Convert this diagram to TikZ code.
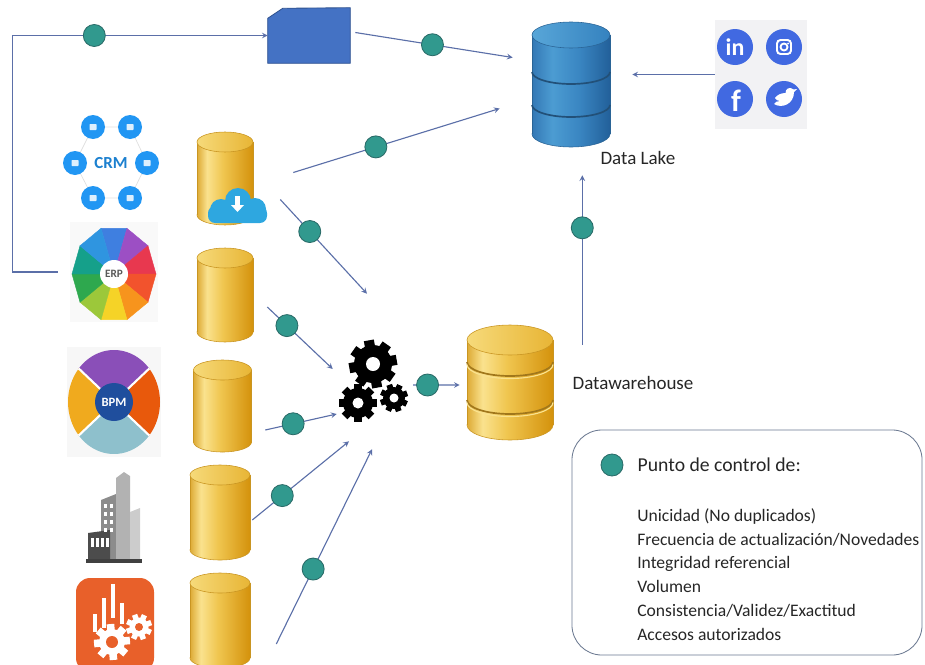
\documentclass[tikz,border=0pt]{standalone}
\usepackage{fontspec}
\setmainfont{Carlito}
\usetikzlibrary{shapes.misc, positioning, shapes.geometric, arrows}

\definecolor{linec}{HTML}{5B6FA8}
\definecolor{dotc}{HTML}{31998E}
\definecolor{dotedge}{HTML}{2A6B68}
\definecolor{docblue}{HTML}{4472C4}
\definecolor{docedge}{HTML}{2F528F}
\definecolor{gA}{HTML}{DDAA35}
\definecolor{gB}{HTML}{FAE28E}
\definecolor{gC}{HTML}{F0C650}
\definecolor{gD}{HTML}{D4920C}
\definecolor{gtopA}{HTML}{F6DA7A}
\definecolor{gtopB}{HTML}{E8B535}
\definecolor{goldedge}{HTML}{C99522}
\definecolor{bA}{HTML}{3478B5}
\definecolor{bB}{HTML}{4C9CD2}
\definecolor{bC}{HTML}{3A86C2}
\definecolor{bD}{HTML}{22609A}
\definecolor{btopA}{HTML}{58A6D8}
\definecolor{btopB}{HTML}{3582BF}
\definecolor{blueedge}{HTML}{2A6496}
\definecolor{socblue}{HTML}{4169E1}
\definecolor{socbg}{HTML}{F2F2F4}
\definecolor{crmblue}{HTML}{2196F3}
\definecolor{cloudc}{HTML}{2EA7E0}
\definecolor{legc}{HTML}{6A7890}
\definecolor{orng}{HTML}{E8602A}
\definecolor{bpmpurple}{HTML}{8A4FB8}
\definecolor{bpmorange}{HTML}{E8590C}
\definecolor{bpmblue}{HTML}{8EC0CC}
\definecolor{bpmyellow}{HTML}{F0AA1E}
\definecolor{bpmcore}{HTML}{1F4E9D}
\definecolor{erp1}{HTML}{3F7FE0}
\definecolor{erp2}{HTML}{9C4FC4}
\definecolor{erp3}{HTML}{E8384F}
\definecolor{erp4}{HTML}{F2532D}
\definecolor{erp5}{HTML}{F7941D}
\definecolor{erp6}{HTML}{F5D327}
\definecolor{erp7}{HTML}{9CC83A}
\definecolor{erp8}{HTML}{2EA84E}
\definecolor{erp9}{HTML}{15A08A}
\definecolor{erp10}{HTML}{2F95E0}

\pgfdeclarehorizontalshading{goldshade}{100bp}{color(0bp)=(gA); color(25bp)=(gA); color(34bp)=(gB); color(48bp)=(gC); color(75bp)=(gD); color(100bp)=(gD)}
\pgfdeclarehorizontalshading{blueshade}{100bp}{color(0bp)=(bA); color(25bp)=(bA); color(38bp)=(bB); color(55bp)=(bC); color(75bp)=(bD); color(100bp)=(bD)}

\tikzstyle{arrow} = [->, >=stealth, line width=0.8pt, draw=linec]
\tikzstyle{dot} = [circle, fill=dotc, draw=dotedge, line width=0.6pt,
    minimum size=0.55cm, inner sep=0]
\tikzstyle{lbl} = [inner sep=0, text=black!85, font=\fontsize{13.5}{16}\selectfont]
\tikzstyle{icon} = [inner sep=0, rectangle]
\tikzstyle{goldbody} = [shade, shading=goldshade]
\tikzstyle{goldtop} = [left color=gtopA, right color=gtopB]
\tikzstyle{bluebody} = [shade, shading=blueshade]
\tikzstyle{bluetop} = [left color=btopA, right color=btopB]

% database cylinder: name, x, y, width, height, end radius, colour family
\newcommand{\dbcyl}[7]{%
  \node[icon, minimum width={#4*0.025cm}, minimum height={#5*0.025cm}] (#1) at (#2,#3) {};
  \pgfmathsetmacro\cyltop{#3+#5/2-#6}
  \pgfmathsetmacro\cylbot{#3-#5/2+#6}
  \path[#7body, draw=#7edge] (#2,\cylbot) ellipse [x radius=#4/2, y radius=#6];
  \path[#7body] (#2-#4/2,\cylbot) rectangle (#2+#4/2,\cyltop);
  \draw[#7edge] (#2-#4/2,\cylbot) -- (#2-#4/2,\cyltop) (#2+#4/2,\cylbot) -- (#2+#4/2,\cyltop);
  \path[#7top, draw=#7edge] (#2,\cyltop) ellipse [x radius=#4/2, y radius=#6];
}

% cog wheel: x, y, outer, body, hole, colour, hole colour, turn
\newcommand{\cog}[8]{%
  \foreach \t in {0,45,...,315}
    \draw[#6, line width={#3*0.3pt}] (#1,#2) -- +(\t+#8:#3);
  \fill[#6] (#1,#2) circle[radius=#4];
  \fill[#7] (#1,#2) circle[radius=#5];
}

\begin{document}
\begin{tikzpicture}[x=0.025cm, y=0.025cm]
    \useasboundingbox (0,0) rectangle (925,-664);

    % sources
    \node[icon, minimum width=2.4cm, minimum height=2.4cm] (crm) at (111,-163) {};
    \draw[gray!25, line width=0.5pt] (93,-127) -- (130,-127) -- (147,-163) -- (130,-198) -- (93,-198) -- (75,-163) -- cycle;
    \foreach \p in {(93,-127),(130,-127),(147,-163),(130,-198),(93,-198),(75,-163)} {
        \fill[crmblue] \p circle[radius=12];
        \fill[white, opacity=0.85, rounded corners=0.5pt] \p ++(-3.5,-3) rectangle ++(7,6);
    }
    \node[inner sep=0, text=crmblue!85!black, font=\bfseries\fontsize{12}{12}\selectfont] (crmtxt) at (111,-163) {CRM};

    \node[icon, fill=gray!5, minimum width=2.2cm, minimum height=2.5cm] (erp) at (114,-272) {};
    \foreach \c [count=\i] in {erp1,erp2,erp3,erp4,erp5,erp6,erp7,erp8,erp9,erp10}
        \filldraw[\c, line width=0.3pt] (114,-274) -- +({108-36*(\i-1)}:42 and 48) -- +({108-36*\i}:42 and 48) -- cycle;
    \fill[white] (114,-274) circle[radius=14];
    \node[inner sep=0, text=black!65, font=\bfseries\fontsize{8}{8}\selectfont] (erptxt) at (114,-274) {ERP};

    \node[icon, fill=gray!6, minimum width=2.325cm, minimum height=2.75cm] (bpm) at (114,-402) {};
    \fill[bpmpurple] (114,-402) -- +(40:46 and 52) arc[start angle=40, end angle=140, x radius=46, y radius=52] -- cycle;
    \fill[bpmyellow] (114,-402) -- +(140:46 and 52) arc[start angle=140, end angle=220, x radius=46, y radius=52] -- cycle;
    \fill[bpmblue] (114,-402) -- +(220:46 and 52) arc[start angle=220, end angle=320, x radius=46, y radius=52] -- cycle;
    \fill[bpmorange] (114,-402) -- +(-40:46 and 52) arc[start angle=-40, end angle=40, x radius=46, y radius=52] -- cycle;
    \foreach \a in {40,140,220,320}
        \draw[white, line width=1.5pt] (114,-402) -- +(\a:46 and 52);
    \fill[bpmcore] (114,-402) circle[radius=19];
    \node[inner sep=0, text=white, font=\bfseries\fontsize{9}{9}\selectfont] (bpmtxt) at (114,-402) {BPM};

    \node[icon, minimum width=1.4cm, minimum height=2.3cm] (bldg) at (114,-517) {};
    \fill[black!45] (101,-562) -- (101,-500) -- (116,-494) -- (116,-562) -- cycle;
    \fill[black!30] (116,-562) -- (116,-478) -- (124,-472) -- (130,-476) -- (130,-562) -- cycle;
    \fill[black!20] (130,-562) -- (130,-512) -- (140,-508) -- (140,-562) -- cycle;
    \fill[black!70] (88,-562) -- (88,-533) -- (110,-530) -- (110,-562) -- cycle;
    \foreach \y in {-504,-512,-520,-528}
        \foreach \x in {104,110}
            \fill[white] (\x,\y) rectangle ++(3,-4);
    \foreach \x in {91,96,101,106}
        \fill[white] (\x,-538) rectangle ++(2.5,-9);
    \fill[black!75] (86,-559) rectangle (142,-563);

    \node[icon, minimum width=2cm, minimum height=2.2cm] (tools) at (115,-621) {};
    \fill[orng, rounded corners=0.35cm] (76,-578) rectangle (154,-672);
    \foreach \x/\ya/\yb in {95/-614/-632, 104/-598/-628, 113/-584/-618, 122/-603/-624}
        \fill[white] (\x-1.8,\ya) rectangle (\x+1.8,\yb);
    \cog{112}{-642}{18}{13}{6}{white}{orng}{5}
    \cog{139}{-627}{13}{9.5}{4}{white}{orng}{20}

    % staging databases
    \dbcyl{cyl1}{225}{-178.5}{56}{93}{10}{gold}
    \fill[cloudc] (221,-210) circle[radius=11] (238,-201) circle[radius=13] (255,-209) circle[radius=11];
    \fill[cloudc, rounded corners=5pt] (208,-206) rectangle (267,-223);
    \fill[white] (235,-196) rectangle (240,-206);
    \fill[white] (231,-205) -- (244,-205) -- (237.5,-212) -- cycle;
    \dbcyl{cyl2}{225}{-295}{56}{94}{10}{gold}
    \dbcyl{cyl3}{222.5}{-406}{58}{92}{10}{gold}
    \dbcyl{cyl4}{220}{-512.5}{60}{95}{10}{gold}
    \dbcyl{cyl5}{220}{-620.5}{60}{95}{10}{gold}

    % ETL
    \node[icon, minimum width=2cm, minimum height=2.5cm] (gears) at (370,-385) {};
    \cog{373}{-364}{24}{19}{7}{black}{white}{10}
    \cog{358}{-403}{19}{15}{5.5}{black}{white}{0}
    \cog{394}{-398}{14}{11}{4.5}{black}{white}{20}

    % targets
    \dbcyl{dw}{510}{-382.5}{86}{115}{15}{gold}
    \foreach \yb in {-362,-400} {
        \draw[goldedge!80!black, line width=1.2pt] (467,\yb) arc[start angle=180, end angle=360, x radius=43, y radius=14];
        \draw[gB, line width=0.8pt] (467,\yb-2.5) arc[start angle=180, end angle=360, x radius=43, y radius=14];
    }
    \node[lbl, right=0.475cm of dw] (dwlbl) {Datawarehouse};

    \dbcyl{lake}{571}{-84.5}{78}{125}{13}{blue}
    \foreach \yb in {-72,-105}
        \draw[blueedge!80!black, line width=1.2pt] (532,\yb) arc[start angle=180, end angle=360, x radius=39, y radius=12];
    \node[lbl, below right=0.1cm and -0.25cm of lake.south east] (lakelbl) {Data Lake};

    \node[icon, minimum width=2.05cm, minimum height=1.375cm] (doc) at (309,-35.5) {};
    \filldraw[fill=docblue, draw=docedge, line width=0.6pt] (doc.south west) -- ++(0,45) -- ++(15,10)
        -- (doc.north east) -- (doc.south east) -- cycle;

    \node[icon, fill=socbg, minimum width=2.3cm, minimum height=2.725cm] (social) at (761,-74.5) {};
    \foreach \p in {(735,-47),(784,-47),(735,-99),(784,-99)}
        \fill[socblue] \p circle[radius=18];
    \node[inner sep=0, text=white, font=\bfseries\fontsize{17}{17}\selectfont] (lnkd) at (735,-47) {in};
    \draw[white, line width=1.4pt, rounded corners=2.5pt] (777,-54) rectangle (791,-40);
    \draw[white, line width=1.3pt] (784,-47) circle[radius=3.5];
    \fill[white] (788,-43.5) circle[radius=1];
    \node[inner sep=0, text=white, font=\bfseries\fontsize{22}{22}\selectfont] (fbk) at (736,-101) {f};
    \fill[white] (774,-104) .. controls (782,-109) and (794,-104) .. (794,-92) -- (797,-89)
        -- (793.5,-89.5) .. controls (790,-86) and (785,-89) .. (785.5,-93)
        .. controls (781,-93) and (777,-95) .. (775,-98) .. controls (776,-100) and (778,-101) .. (780,-101)
        .. controls (777,-101) and (775,-102) .. (774,-104) -- cycle;

    % flows with control points
    \draw[arrow] ([xshift=-0.3cm]erp.west) -- ++(-45,0) |- node[dot, pos=0.66] (c0) {} (doc.west);
    \draw[arrow] ([shift={(5,3)}]doc.east) -- node[dot, pos=0.49] (c1) {} ([shift={(-19,27)}]lake.west);
    \draw[arrow] ([shift={(40,6)}]cyl1.east) -- node[dot, pos=0.4] (c2) {} ([shift={(-32,-24)}]lake.west);
    \draw[arrow] (social.west) -- ([shift={(22,10)}]lake.east);
    \draw[arrow] ([shift={(29,-20)}]dw.north east) -- node[dot, pos=0.69] (c3) {} ([shift={(-28,-28)}]lake.south east);

    \draw[arrow] ([shift={(27,-21)}]cyl1.east) -- node[dot, pos=0.34] (c4) {} ([shift={(-3,41)}]gears.north);
    \draw[arrow] ([shift={(14,-12)}]cyl2.east) -- node[dot, pos=0.3] (c5) {} ([shift={(3,16)}]gears.west);
    \draw[arrow] ([shift={(13.5,-24)}]cyl3.east) -- node[dot, pos=0.39] (c6) {} ([shift={(7,-29)}]gears.west);
    \draw[arrow] ([shift={(2,-7.5)}]cyl4.east) -- node[dot, pos=0.31] (c7) {} ([shift={(-21,-6)}]gears.south);
    \draw[arrow] ([shift={(26,-23.5)}]cyl5.east) -- node[dot, pos=0.385] (c8) {} ([shift={(2,-14)}]gears.south);
    \draw[arrow] ([xshift=2]gears.east) -- node[dot, pos=0.31] (c9) {} ([shift={(-7,-2.5)}]dw.west);

    % legend
    \node[draw=legc, line width=0.6pt, rounded corners=0.75cm, minimum width=8.75cm,
        minimum height=5.625cm, inner sep=0] (legend) at (747,-542.5) {};
    \node[dot] (key) at (612,-465) {};
    \node[lbl, right=0.35cm of key, font=\fontsize{14}{16}\selectfont] (keytxt) {Punto de control de:};
    \node[lbl, align=left, anchor=north west, font=\fontsize{12.5}{17}\selectfont] (items) at (637,-508) {Unicidad (No duplicados)\\
        Frecuencia de actualización/Novedades\\
        Integridad referencial\\
        Volumen\\
        Consistencia/Validez/Exactitud\\
        Accesos autorizados};
\end{tikzpicture}
\end{document}
